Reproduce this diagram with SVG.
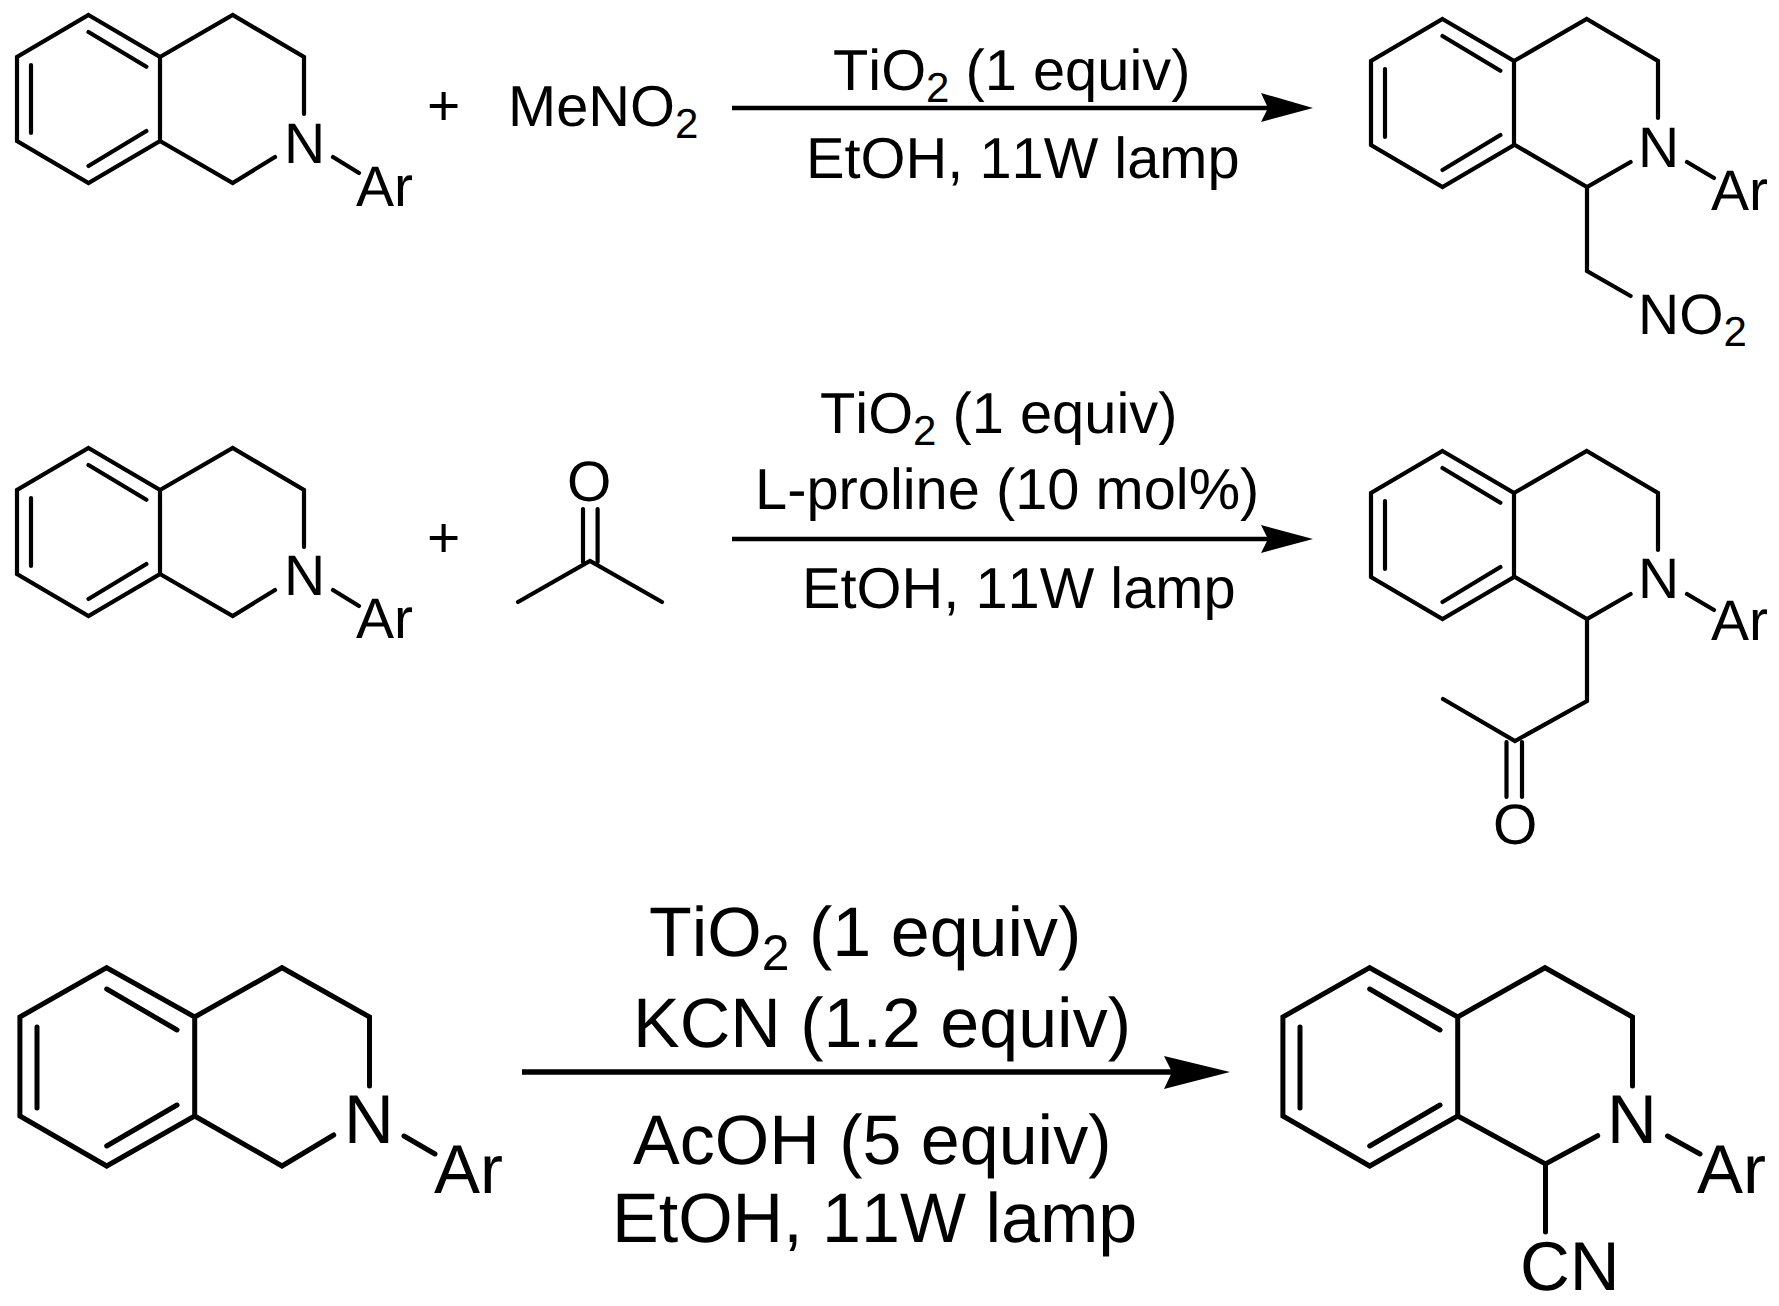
<svg xmlns="http://www.w3.org/2000/svg" width="1779" height="1306" viewBox="0 0 1779 1306">
<style>
text{font-family:"Liberation Sans",Arial,sans-serif;fill:#000;font-kerning:none;text-rendering:geometricPrecision}
.s{font-size:57px}
.c{font-size:57.8px}
.l{font-size:69px}
.C{font-size:70px}
.sub{font-size:42px}
.subl{font-size:50px}
.b{fill:none;stroke:#000;stroke-width:4.2;stroke-linecap:round;stroke-linejoin:miter}
.B{fill:none;stroke:#000;stroke-width:5;stroke-linecap:round;stroke-linejoin:miter}
.a{stroke:#000;stroke-width:4.4;fill:none}
.A{stroke:#000;stroke-width:5.4;fill:none}
</style>
<defs>
<path id="core" class="b" d="M88.5 15L160 57V141L88.5 183L17 141V57ZM88.5 32L146.4 66.7M31 65V133M146.4 131L88.5 166M160 57L232.7 15L304 57V114"/>
<path id="coreL" class="B" d="M106.7 967.7L194.7 1017V1116L106.7 1166L19.9 1116V1017ZM106.7 989L177 1030M37 1027V1108M177 1105L106.7 1146M194.7 1017L282 967.7L369.5 1017V1086"/>
</defs>
<g id="reactant-1">
<use href="#core"/>
<path class="b" d="M160 141L232.7 183L275 157M333 157L359 173"/>
<text class="s" x="284" y="163">N</text><text class="s" x="356" y="206">Ar</text>
</g>
<g id="plus-1"><text class="s" x="427" y="125">+</text></g>
<g id="menitro"><text class="c" x="508" y="126">MeNO<tspan class="sub" dy="12">2</tspan></text></g>
<g id="conditions-1">
<text class="c" x="833" y="90">TiO<tspan class="sub" dy="12">2</tspan><tspan dy="-12"> (1 equiv)</tspan></text>
<text class="c" x="806" y="178">EtOH, 11W lamp</text>
</g>
<g id="product-1">
<use href="#core" transform="translate(1354 4)"/>
<path class="b" d="M1514.9 145L1587 187L1630.6 162M1587 187V271L1630.6 296M1687 162L1714 178"/>
<text class="s" x="1638" y="167">N</text><text class="s" x="1711" y="210">Ar</text>
<text class="s" x="1638" y="334">NO<tspan class="sub" dy="12">2</tspan></text>
</g>
<g id="reactant-2">
<use href="#core" transform="translate(0 433)"/>
<path class="b" d="M160 574L232.7 616L275 590M333 590L359 606"/>
<text class="s" x="284" y="595">N</text><text class="s" x="356" y="638">Ar</text>
</g>
<g id="plus-2"><text class="s" x="427" y="557">+</text></g>
<g id="acetone">
<path class="b" d="M583 509V562M597.6 509V562M518 602L590 561L662 602"/>
<text class="s" x="567" y="501">O</text>
</g>
<g id="conditions-2">
<text class="c" x="820" y="433">TiO<tspan class="sub" dy="12">2</tspan><tspan dy="-12"> (1 equiv)</tspan></text>
<text class="c" x="755" y="509">L-proline (10 mol%)</text>
<text class="c" x="802" y="608">EtOH, 11W lamp</text>
</g>
<g id="product-2">
<use href="#core" transform="translate(1354 436)"/>
<path class="b" d="M1514.9 577L1587 619L1630.6 594M1587 619V701L1515 741L1443 699M1506.5 742V797M1522 742V797M1687 594L1714 610"/>
<text class="s" x="1638" y="598">N</text><text class="s" x="1711" y="640">Ar</text>
<text class="s" x="1493" y="844">O</text>
</g>
<g id="reactant-3">
<use href="#coreL"/>
<path class="B" d="M194.7 1116L282 1166L333.7 1135M404 1136L435 1154"/>
<text class="l" x="344" y="1143">N</text><text class="l" x="434" y="1193">Ar</text>
</g>
<g id="conditions-3">
<text class="C" x="649" y="956">TiO<tspan class="subl" dy="14">2</tspan><tspan dy="-14"> (1 equiv)</tspan></text>
<text class="C" x="633" y="1047">KCN (1.2 equiv)</text>
<text class="C" x="633" y="1164">AcOH (5 equiv)</text>
<text class="C" x="612" y="1242">EtOH, 11W lamp</text>
</g>
<g id="product-3">
<use href="#coreL" transform="translate(1263 0)"/>
<path class="B" d="M1457.7 1116L1545.5 1164L1597.7 1135.7M1545.5 1164V1232M1667.5 1136L1700 1154"/>
<text class="l" x="1607" y="1143">N</text><text class="l" x="1697" y="1193">Ar</text>
<text class="l" x="1520" y="1290">CN</text>
</g>
<g id="connectors">
<path class="a" d="M732 108H1270"/><polygon points="1313,108 1261,93 1268,108 1261,122"/>
<path class="a" d="M732 539H1270"/><polygon points="1313,539 1261,525 1268,539 1261,553"/>
<path class="A" d="M522 1072H1180"/><polygon points="1230,1072 1164,1056 1172,1072 1164,1089"/>
</g>
</svg>
